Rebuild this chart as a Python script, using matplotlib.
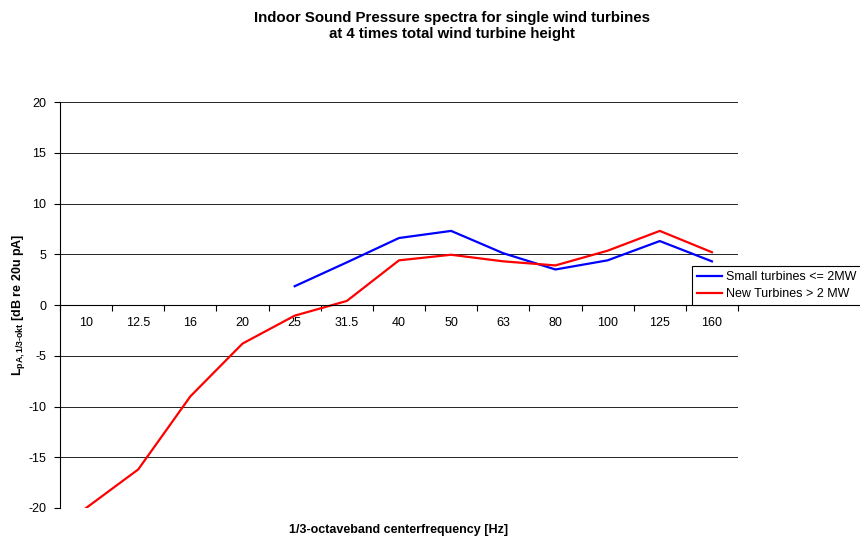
import matplotlib
matplotlib.use('Agg')
import matplotlib.pyplot as plt
import numpy as np

plt.rcParams['font.family'] = ['Liberation Sans', 'DejaVu Sans']
plt.rcParams['axes.unicode_minus'] = False
plt.rcParams['mathtext.fontset'] = 'custom'
plt.rcParams['mathtext.rm'] = 'Liberation Sans:bold'
plt.rcParams['mathtext.bf'] = 'Liberation Sans:bold'

freq_labels = ['10', '12.5', '16', '20', '25', '31.5', '40', '50', '63', '80', '100', '125', '160']
small_turbines = [None, None, None, None, 1.85, 4.2, 6.6, 7.3, 5.1, 3.5, 4.4, 6.3, 4.3]
new_turbines = [-20.0, -16.2, -9.0, -3.8, -1.05, 0.4, 4.4, 4.95, 4.3, 3.9, 5.35, 7.3, 5.2]

x = np.arange(len(freq_labels))
small = np.array([np.nan if v is None else v for v in small_turbines])
new = np.array(new_turbines)

fig = plt.figure(figsize=(8.6, 5.41), dpi=100)
ax = fig.add_axes([60 / 860, 1 - 508 / 541, 678 / 860, 406 / 541])

ax.plot(x, small, color='#0000ff', lw=1.6, label='Small turbines <= 2MW')
ax.plot(x, new, color='#ff0000', lw=1.6, label='New Turbines > 2 MW')

ax.set_xlim(-0.5, len(freq_labels) - 0.5)
ax.set_ylim(-20, 20)
ax.set_yticks(np.arange(-20, 21, 5))
ax.yaxis.grid(True, color='black', lw=0.6)
ax.set_axisbelow(True)

for s in ['top', 'right']:
    ax.spines[s].set_visible(False)
ax.spines['bottom'].set_position(('data', 0))
ax.spines['left'].set_linewidth(0.8)
ax.spines['bottom'].set_linewidth(0.8)

ax.set_xticks(x)
ax.set_xticklabels(freq_labels)
ax.set_xticks(np.arange(-0.5, len(freq_labels)), minor=True)
ax.tick_params(axis='x', which='major', length=0, pad=9, labelsize=9)
ax.tick_params(axis='x', which='minor', length=4, width=0.8, direction='out')
ax.tick_params(axis='y', length=4, width=0.8, labelsize=9, pad=6)

ax.set_ylabel(r'L$_{\mathrm{pA,1/3}\text{-}\mathrm{okt}}$ [dB re 20u pA]', fontsize=9,
              fontweight='bold', labelpad=1)
fig.text(0.5 * (60 + 738) / 860, 1 - 530 / 541, '1/3-octaveband centerfrequency [Hz]',
         ha='center', va='center', fontsize=9, fontweight='bold')
fig.text(452 / 860, 1 - 26 / 541,
         'Indoor Sound Pressure spectra for single wind turbines\nat 4 times total wind turbine height',
         ha='center', va='center', fontsize=10.8, fontweight='bold', linespacing=1.1)

leg = ax.legend(loc='upper left', bbox_to_anchor=(692 / 860, 1 - 266 / 541),
                bbox_transform=fig.transFigure, fontsize=9, frameon=True,
                fancybox=False, framealpha=1, edgecolor='black', borderpad=0.4,
                handlelength=2.0, handletextpad=0.3, labelspacing=0.4, borderaxespad=0)
leg.get_frame().set_linewidth(0.8)

fig.savefig('out.png', dpi=100)
